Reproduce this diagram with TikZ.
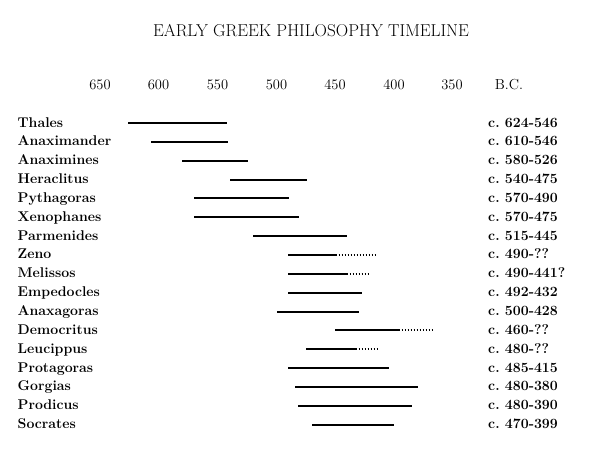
\documentclass[tikz,border=0pt]{standalone}
\usepackage{fontspec}
\begin{document}
\begin{tikzpicture}[x=1pt,y=-1pt,
  ttl/.style={font=\fontsize{17.2}{20}\selectfont, anchor=base},
  axlbl/.style={font=\fontsize{14.5}{17}\selectfont, anchor=base},
  nm/.style={font=\fontsize{14.1}{16}\selectfont\bfseries, anchor=base west, inner sep=0pt},
  dt/.style={font=\fontsize{14.1}{16}\selectfont\bfseries, anchor=base west, inner sep=0pt},
  span/.style={line width=2pt},
  unsure/.style={line width=1.3pt, dash pattern=on 1.3pt off 1.7pt}]
\useasboundingbox[fill=white] (0,0) rectangle (600,453);
\node[ttl] (title) at (311,36) {EARLY GREEK PHILOSOPHY TIMELINE};
\foreach \lab/\xx [count=\k] in {650/100,600/158.5,550/217.5,500/276.5,450/335,400/394,350/452,B.C./509}
  \node[axlbl] (ax\k) at (\xx,89) {\lab};
\foreach \who/\when/\xa/\xb/\xc [count=\i] in {
  Thales/624-546/128/227/0,
  Anaximander/610-546/151/228/0,
  Anaximines/580-526/182/248/0,
  Heraclitus/540-475/230/307/0,
  Pythagoras/570-490/194/289/0,
  Xenophanes/570-475/194/299/0,
  Parmenides/515-445/253/347/0,
  Zeno/490-??/288/337/377,
  Melissos/490-441?/288/348/369,
  Empedocles/492-432/288/362/0,
  Anaxagoras/500-428/277/359/0,
  Democritus/460-??/335/400/432,
  Leucippus/480-??/306/357/377,
  Protagoras/485-415/288/389/0,
  Gorgias/480-380/295/418/0,
  Prodicus/480-390/298/412/0,
  Socrates/470-399/312/394/0}{
  \pgfmathsetmacro{\yy}{127+18.85*(\i-1)}
  \pgfmathsetmacro{\ly}{round(\yy-4)}
  \node[nm] (n\i) at (17.5,\yy) {\who};
  \node[dt] (d\i) at (488,\yy) {c.\ \when};
  \coordinate (s\i) at (\xa,\ly);
  \coordinate (e\i) at (\xb,\ly);
  \draw[span] (s\i) -- (e\i);
  \ifnum\xc>0
    \coordinate (z\i) at (\xc,\ly);
    \draw[unsure] (e\i) ++(1.5,0) -- (z\i);
  \fi
}
\end{tikzpicture}
\end{document}
